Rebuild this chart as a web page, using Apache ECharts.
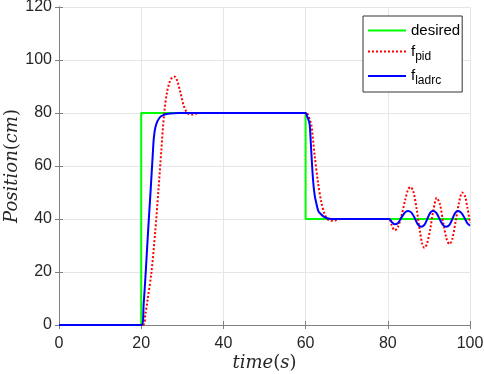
<!DOCTYPE html>
<html>
<head>
<meta charset="utf-8">
<script src="https://cdn.jsdelivr.net/npm/echarts@6/dist/echarts.min.js"></script>
<style>
html,body{margin:0;padding:0;background:#fff;}
#chart{width:484px;height:374px;}
</style>
</head>
<body>
<div id="chart"></div>
<script>
// tick labels
var xTicks = [0, 20, 40, 60, 80, 100];
var yTicks = [0, 20, 40, 60, 80, 100, 120];

// reference signal
var desired = [[0,0],[20,0],[20,80],[60,80],[60,40],[100,40]];

// pid response
var fPid = [[0,0],[20.4,0],[21,4],[21.6,10],[22.5,20],[23.4,35],[24.2,51],[24.9,66],[25.6,80],[26.3,88],[27,92],
	[27.6,93.5],[28.2,93.7],[28.8,92],[29.5,88],[30.3,83],[31,80.5],[31.6,79.6],[32.4,79.4],[33.2,79.7],[34.5,80],
	[60,80],[60.5,79.5],[61,77.5],[61.4,75.5],[62.2,64],[63,54],[63.8,46.5],[64.6,42],[65.3,40],[66,39.4],[66.7,39.3],
	[67.5,39.6],[68.5,40],[80.3,40],[80.9,37.8],[81.7,35.7],[82.4,36.8],[83.3,41],[84.2,47],[84.9,51],[85.5,52.1],
	[86.2,50.5],[87,44],[87.8,35.5],[88.4,30.5],[88.9,29.1],[89.5,30.5],[90.3,36],[91.1,43.5],[91.9,48],[92.7,45.5],
	[93.5,38.5],[94.3,32.5],[95,30.5],[95.7,32.5],[96.5,39],[97.3,46],[98.1,50],[98.8,48.5],[99.4,44],[100,38.5]];

// ladrc response
var fLadrc = [[0,0],[20.1,0],[20.6,8],[21.1,20],[21.7,36],[22.3,51],[22.8,64],[23.1,71],[23.6,75.5],[24.5,78.3],
	[25.5,79.3],[27,79.8],[29,80],[60,80],[60.3,79],[60.7,77.5],[61,75.5],[61.4,65],[61.8,55],[62.2,49],[62.6,46],
	[63.1,43],[63.8,41.7],[64.5,40.8],[65.5,40.2],[67,40],[80.3,40],[81,38.8],[81.7,38],[82.5,38.5],[83.3,40.5],
	[84.2,42.5],[84.9,43],[85.7,42.5],[86.5,40.5],[87.3,38],[88.1,37.1],[88.9,37.8],[89.6,40],[90.3,42.3],[91,43],
	[91.8,42.3],[92.6,40],[93.4,37.8],[94.2,37.1],[95,37.8],[95.7,40],[96.4,42.3],[97.1,43],[97.9,42.3],[98.7,40.3],
	[99.4,38.3],[100,37.5]];

var myChart = echarts.init(document.getElementById('chart'));
var axisGray = '#808080';
var labelFont = {color:'#262626', fontSize:16, fontFamily:'Liberation Sans'};

function boxAxis(dim, pos){
	return {
		type:'value', position:pos, min:0, max:dim==='x'?100:120, interval:20,
		axisLine:{show:true, lineStyle:{color:axisGray, width:1}},
		axisTick:{show:true, inside:true, length:4, lineStyle:{color:axisGray}},
		axisLabel:{show:false}, splitLine:{show:false}
	};
}

var option = {
	animation:false,
	backgroundColor:'#fff',
	grid:{left:59, right:14, top:7, bottom:49, outerBoundsMode:'none', containLabel:false},
	legend:{
		left:363, top:16, orient:'vertical',
		backgroundColor:'#fff', borderColor:'#333', borderWidth:1, borderRadius:0,
		padding:[7,2,5,4], itemGap:6, itemWidth:38, itemHeight:14,
		itemStyle:{opacity:0},
		data:['desired','f_pid','f_ladrc'],
		formatter:function(name){
			if(name==='desired') return '{m|desired}';
			return '{m|f}{s|'+name.substring(2)+'}';
		},
		textStyle:{
			color:'#000', fontFamily:'Liberation Sans', fontSize:15,
			rich:{
				m:{fontSize:15, fontFamily:'Liberation Sans', color:'#000'},
				s:{fontSize:12, fontFamily:'Liberation Sans', color:'#000', padding:[10,0,0,0]}
			}
		}
	},
	xAxis:[{
		type:'value', min:0, max:100, interval:20,
		name:'{i|time}{r|(}{i|s}{r|)}', nameLocation:'middle', nameGap:29, nameMoveOverlap:false,
		nameTextStyle:{rich:{
			i:{fontFamily:'DejaVu Serif', fontStyle:'italic', fontSize:18, color:'#262626'},
			r:{fontFamily:'DejaVu Serif', fontSize:18, color:'#262626'}
		}},
		axisLine:{show:true, lineStyle:{color:axisGray}},
		axisTick:{show:true, inside:true, length:4, lineStyle:{color:axisGray}},
		axisLabel:Object.assign({margin:11, customValues:xTicks}, labelFont),
		splitLine:{show:true, lineStyle:{color:'#e6e6e6', width:1}}
	}, boxAxis('x','top')],
	yAxis:[{
		type:'value', min:0, max:120, interval:20,
		name:'{i|Position}{r|(}{i|cm}{r|)}', nameLocation:'middle', nameGap:38, nameRotate:90, nameMoveOverlap:false,
		nameTextStyle:{rich:{
			i:{fontFamily:'DejaVu Serif', fontStyle:'italic', fontSize:18, color:'#262626'},
			r:{fontFamily:'DejaVu Serif', fontSize:18, color:'#262626'}
		}},
		axisLine:{show:true, lineStyle:{color:axisGray}},
		axisTick:{show:true, inside:true, length:4, lineStyle:{color:axisGray}},
		axisLabel:Object.assign({margin:7, customValues:yTicks}, labelFont),
		splitLine:{show:true, lineStyle:{color:'#e6e6e6', width:1}}
	}, boxAxis('y','right')],
	series:[
		{name:'desired', type:'line', data:desired, symbol:'none', lineStyle:{color:'#00ff00', width:2}, itemStyle:{color:'#00ff00'}},
		{name:'f_pid', type:'line', data:fPid, symbol:'none', smooth:0.3, lineStyle:{color:'#ff0000', width:2, type:[2,2]}, itemStyle:{color:'#ff0000'}},
		{name:'f_ladrc', type:'line', data:fLadrc, symbol:'none', smooth:0.3, lineStyle:{color:'#0000ff', width:2}, itemStyle:{color:'#0000ff'}}
	]
};
myChart.setOption(option);
</script>
</body>
</html>
